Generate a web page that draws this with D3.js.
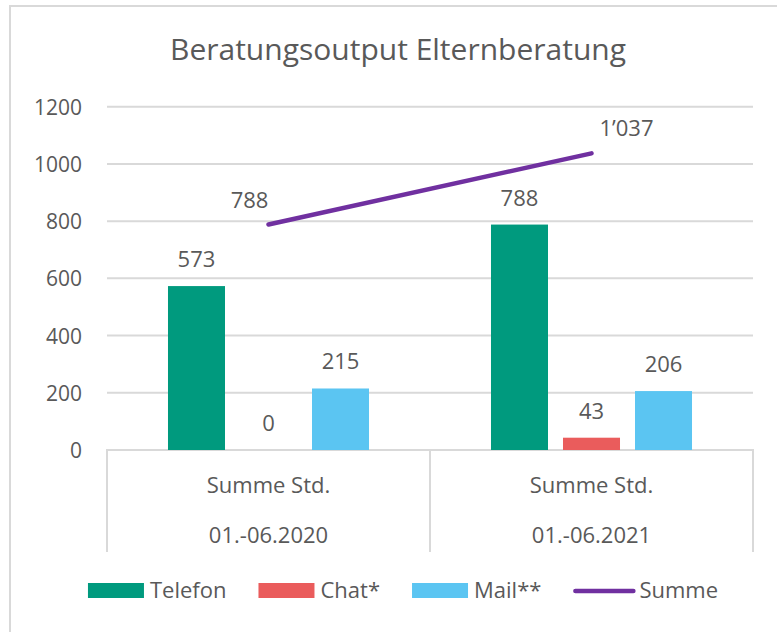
<!DOCTYPE html>
<html>
<head>
<meta charset="utf-8">
<script src="https://cdn.jsdelivr.net/npm/d3@7"></script>
<style>
  html, body { margin: 0; padding: 0; background: #ffffff; }
  svg { display: block; }
  text { font-family: "Open Sans", sans-serif; fill: #595959; }
</style>
</head>
<body>
<svg id="chart" width="777" height="632"></svg>
<script>
// ---- data ----
const title = "Beratungsoutput Elternberatung";
const categories = ["01.-06.2020", "01.-06.2021"];
const subLabel = "Summe Std.";
const barSeries = ["Telefon", "Chat*", "Mail**"];
const telefon = [573, 788];
const chat = [0, 43];
const mail = [215, 206];
const summe = [788, 1037];
const lineSeries = "Summe";
const yTicks = [0, 200, 400, 600, 800, 1000, 1200];

const colors = { "Telefon": "#009a7e", "Chat*": "#ea5c5c", "Mail**": "#5bc5f2", "Summe": "#7030a0" };
const barValues = { "Telefon": telefon, "Chat*": chat, "Mail**": mail };

const svg = d3.select("#chart");
const W = 777, H = 632;
const plot = { left: 107, right: 753, top: 106.7, bottom: 450 };
const grey = "#d9d9d9";

const fmt = d3.formatLocale({ decimal: ".", thousands: "\u2019", grouping: [3], currency: ["", ""] }).format(",d");

// frame
svg.append("path")
  .attr("d", `M10,${H} L10,6 L${W},6`)
  .attr("fill", "none").attr("stroke", grey).attr("stroke-width", 2);

// title
svg.append("text")
  .attr("x", 398).attr("y", 60)
  .attr("text-anchor", "middle")
  .style("font-size", "30px")
  .text(title);

// scales
const y = d3.scaleLinear().domain([0, 1200]).range([plot.bottom, plot.top]);
const x0 = d3.scaleBand().domain(categories).range([plot.left, plot.right]).padding(0);
const x1 = d3.scaleBand().domain(barSeries).range([0, x0.bandwidth()])
  .paddingInner(0.2083).paddingOuter(0.847);

// gridlines
svg.append("g").selectAll("line").data(yTicks.filter(t => t > 0)).join("line")
  .attr("x1", plot.left).attr("x2", plot.right)
  .attr("y1", d => y(d)).attr("y2", d => y(d))
  .attr("stroke", grey).attr("stroke-width", 2);

// y axis labels
const yAxis = d3.axisLeft(y).tickValues(yTicks).tickSize(0).tickPadding(0).tickFormat(d3.format("d"));
const yg = svg.append("g").attr("transform", `translate(82,0)`).call(yAxis);
yg.select(".domain").remove();
yg.selectAll("text").attr("dy", "0.36em").style("font-size", "21px").attr("fill", "#595959");

// category axis lines
const catBottom = 552;
svg.append("line").attr("x1", plot.left - 1).attr("x2", plot.right + 1)
  .attr("y1", plot.bottom).attr("y2", plot.bottom)
  .attr("stroke", grey).attr("stroke-width", 2);
const dividers = [plot.left, ...categories.map(c => x0(c) + x0.bandwidth())];
svg.append("g").selectAll("line").data(dividers).join("line")
  .attr("x1", d => d).attr("x2", d => d)
  .attr("y1", plot.bottom).attr("y2", catBottom)
  .attr("stroke", grey).attr("stroke-width", 2);

// category labels
const catG = svg.append("g");
catG.selectAll("text.sub").data(categories).join("text").attr("class", "sub")
  .attr("x", d => x0(d) + x0.bandwidth() / 2).attr("y", 493)
  .attr("text-anchor", "middle").style("font-size", "22px")
  .text(subLabel);
catG.selectAll("text.cat").data(categories).join("text").attr("class", "cat")
  .attr("x", d => x0(d) + x0.bandwidth() / 2).attr("y", 543)
  .attr("text-anchor", "middle").style("font-size", "22px")
  .text(d => d);

// bars
const barData = [];
categories.forEach((c, i) => barSeries.forEach(s => barData.push({ c, s, v: barValues[s][i] })));
svg.append("g").selectAll("rect").data(barData).join("rect")
  .attr("x", d => x0(d.c) + x1(d.s))
  .attr("width", x1.bandwidth())
  .attr("y", d => y(d.v))
  .attr("height", d => y(0) - y(d.v))
  .attr("fill", d => colors[d.s]);

// bar labels
svg.append("g").selectAll("text").data(barData).join("text")
  .attr("x", d => x0(d.c) + x1(d.s) + x1.bandwidth() / 2)
  .attr("y", d => y(d.v) - 19)
  .attr("text-anchor", "middle").style("font-size", "22px")
  .text(d => fmt(d.v));

// line
const lineData = categories.map((c, i) => ({ c, v: summe[i] }));
const line = d3.line().x(d => x0(d.c) + x0.bandwidth() / 2).y(d => y(d.v));
svg.append("path").datum(lineData)
  .attr("d", line).attr("fill", "none")
  .attr("stroke", colors["Summe"]).attr("stroke-width", 4.5)
  .attr("stroke-linecap", "round");

// line labels (first left-above, last right-above)
svg.append("g").selectAll("text").data(lineData).join("text")
  .attr("x", (d, i) => x0(d.c) + x0.bandwidth() / 2 + (i === 0 ? -19 : 35))
  .attr("y", d => y(d.v) - 17)
  .attr("text-anchor", "middle").style("font-size", "22px")
  .text(d => fmt(d.v));

// legend
const legendItems = [...barSeries, lineSeries];
const lg = svg.append("g");
const items = lg.selectAll("g").data(legendItems).join("g");
items.append("text").attr("x", 62).attr("y", 598)
  .style("font-size", "22px").text(d => d);
items.each(function (d) {
  const g = d3.select(this);
  if (d === lineSeries) {
    g.insert("line", "text").attr("x1", 2).attr("x2", 60).attr("y1", 591).attr("y2", 591)
      .attr("stroke", colors[d]).attr("stroke-width", 4.5).attr("stroke-linecap", "round");
    g.select("text").attr("x", 66);
  } else {
    g.insert("rect", "text").attr("x", 0).attr("y", 583).attr("width", 56).attr("height", 15)
      .attr("fill", colors[d]);
  }
});
let widths = [];
items.each(function () { widths.push(this.getBBox().width); });
const gap = 32;
const total = d3.sum(widths) + gap * (widths.length - 1);
let cx = 402 - total / 2;
items.attr("transform", (d, i) => {
  const t = `translate(${cx},0)`;
  cx += widths[i] + gap;
  return t;
});
</script>
</body>
</html>
